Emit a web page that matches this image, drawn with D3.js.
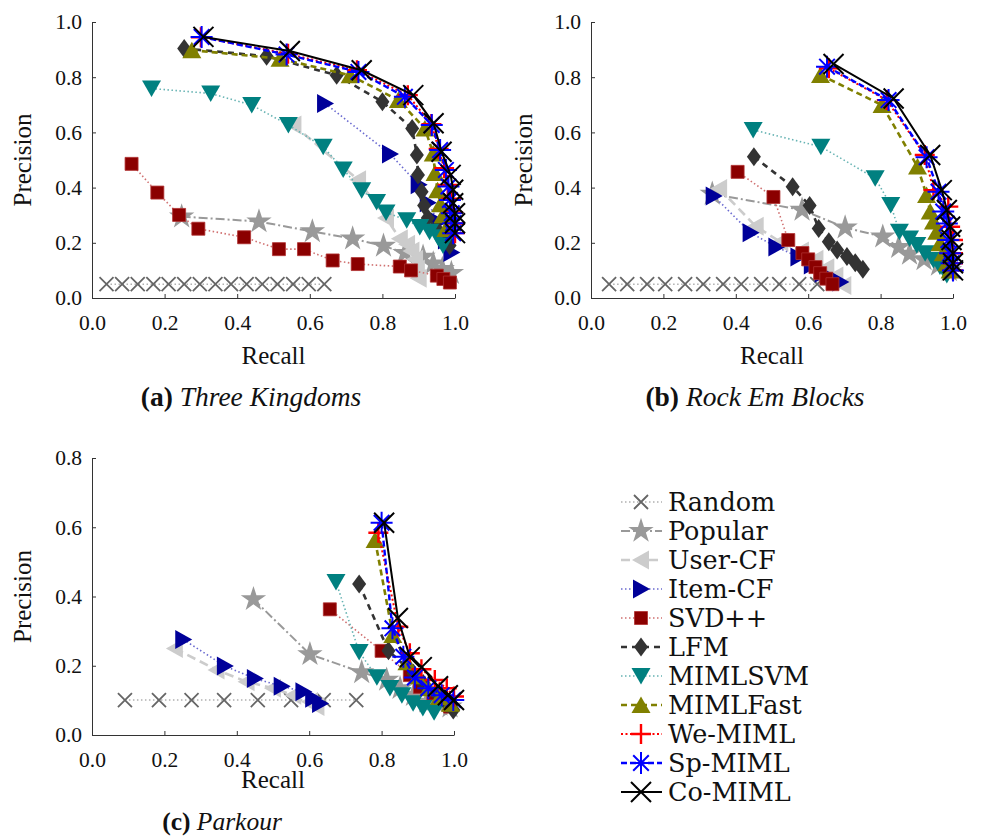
<!DOCTYPE html>
<html>
<head>
<meta charset="utf-8">
<script src="https://cdn.jsdelivr.net/npm/d3@7"></script>
<style>
  body { margin: 0; background: #fff; }
  svg { display: block; }
  svg text { fill: #111; }
  .lab { font-size: 25px; }
  .leg { font-size: 25.5px; }
</style>
</head>
<body>
<svg width="981" height="837"></svg>
<script>
// ### method names and (recall, precision) pairs ###
var methods = ["Random", "Popular", "User-CF", "Item-CF", "SVD++", "LFM",
               "MIMLSVM", "MIMLFast", "We-MIML", "Sp-MIML", "Co-MIML"];
var xTicks = [0, 0.2, 0.4, 0.6, 0.8, 1.0];
var yTicksAB = [0, 0.2, 0.4, 0.6, 0.8, 1.0];
var yTicksC = [0, 0.2, 0.4, 0.6, 0.8];
var captions = [["(a)", "Three Kingdoms"], ["(b)", "Rock Em Blocks"], ["(c)", "Parkour"]];

// (a) Three Kingdoms
var tkRandomRecall = [0.04, 0.083, 0.126, 0.169, 0.211, 0.254, 0.297, 0.34, 0.383, 0.426, 0.469, 0.511, 0.554, 0.597, 0.64];
var tkRandomPrec = 0.05;
var tkPopular = [[0.247,0.295],[0.46,0.277],[0.607,0.241],[0.718,0.215],[0.803,0.189],[0.862,0.163],[0.912,0.149],[0.94,0.125],[0.965,0.105],[0.99,0.09]];
var tkUserCF = [[0.555,0.627],[0.733,0.428],[0.81,0.29],[0.848,0.215],[0.868,0.195],[0.88,0.17],[0.89,0.14],[0.895,0.105],[0.9,0.072]];
var tkItemCF = [[0.642,0.705],[0.821,0.522],[0.9,0.41],[0.925,0.345],[0.955,0.275],[0.975,0.21],[0.99,0.165]];
var tkSVD = [[0.109,0.486],[0.18,0.382],[0.24,0.301],[0.293,0.251],[0.419,0.22],[0.515,0.177],[0.584,0.177],[0.663,0.136],[0.732,0.123],[0.848,0.114],[0.879,0.1],[0.95,0.081],[0.968,0.069],[0.986,0.056]];
var tkLFM = [[0.254,0.904],[0.481,0.876],[0.674,0.807],[0.8,0.711],[0.882,0.614],[0.895,0.518],[0.898,0.446],[0.908,0.385],[0.915,0.335],[0.925,0.29],[0.95,0.25],[0.985,0.19]];
var tkMIMLSVM = [[0.164,0.759],[0.327,0.741],[0.44,0.699],[0.541,0.627],[0.637,0.548],[0.692,0.466],[0.743,0.39],[0.784,0.348],[0.81,0.31],[0.867,0.282],[0.903,0.257],[0.93,0.24],[0.953,0.22],[0.967,0.19]];
var tkMIMLFast = [[0.275,0.898],[0.518,0.867],[0.711,0.807],[0.844,0.717],[0.917,0.614],[0.94,0.524],[0.945,0.453],[0.952,0.39],[0.96,0.34],[0.967,0.3],[0.975,0.25]];
var tkWeMIML = [[0.3,0.945],[0.54,0.885],[0.73,0.825],[0.87,0.735],[0.935,0.63],[0.955,0.54],[0.97,0.47],[0.98,0.41],[0.99,0.36],[0.995,0.31],[1.0,0.27],[1.0,0.235]];
var tkSpMIML = [[0.302,0.946],[0.536,0.882],[0.734,0.819],[0.862,0.729],[0.936,0.627],[0.959,0.536],[0.975,0.464],[0.982,0.404],[0.986,0.355],[0.991,0.307],[0.995,0.271],[0.995,0.235]];
var tkCoMIML = [[0.307,0.946],[0.545,0.895],[0.743,0.825],[0.885,0.735],[0.941,0.633],[0.963,0.53],[0.988,0.446],[0.995,0.392],[0.995,0.343],[1.0,0.307],[1.0,0.271],[1.0,0.235]];

// (b) Rock Em Blocks
var reRandomRecall = [0.05, 0.10, 0.155, 0.205, 0.26, 0.31, 0.365, 0.415, 0.47, 0.52, 0.575, 0.625];
var reRandomPrec = 0.05;
var rePopular = [[0.335,0.377],[0.583,0.319],[0.702,0.255],[0.806,0.222],[0.85,0.184],[0.88,0.16],[0.92,0.14],[0.96,0.12],[0.99,0.1]];
var reUserCF = [[0.354,0.397],[0.455,0.26],[0.523,0.203],[0.58,0.17],[0.62,0.14],[0.65,0.11],[0.675,0.08],[0.697,0.045]];
var reItemCF = [[0.339,0.37],[0.441,0.236],[0.512,0.185],[0.573,0.149],[0.61,0.12],[0.64,0.09],[0.689,0.058]];
var reSVD = [[0.405,0.457],[0.504,0.366],[0.545,0.21],[0.584,0.163],[0.6,0.14],[0.62,0.112],[0.633,0.09],[0.65,0.07],[0.667,0.05]];
var reLFM = [[0.45,0.512],[0.557,0.403],[0.604,0.335],[0.629,0.252],[0.657,0.204],[0.68,0.174],[0.707,0.15],[0.73,0.128],[0.751,0.104]];
var reMIMLSVM = [[0.448,0.609],[0.635,0.548],[0.785,0.434],[0.828,0.337],[0.852,0.24],[0.88,0.216],[0.9,0.192],[0.923,0.162],[0.946,0.138],[0.964,0.114],[0.983,0.083]];
var reMIMLFast = [[0.634,0.808],[0.804,0.699],[0.902,0.476],[0.927,0.373],[0.937,0.313],[0.946,0.277],[0.955,0.24],[0.964,0.198],[0.973,0.162],[0.983,0.126],[0.992,0.1]];
var reWeMIML = [[0.657,0.832],[0.817,0.717],[0.922,0.518],[0.946,0.391],[0.987,0.331],[0.992,0.258],[1.0,0.21],[1.0,0.162],[1.0,0.126],[1.0,0.1]];
var reSpMIML = [[0.652,0.838],[0.822,0.717],[0.927,0.51],[0.96,0.385],[0.973,0.313],[0.983,0.27],[0.987,0.21],[0.992,0.162],[0.996,0.126],[1.0,0.1]];
var reCoMIML = [[0.67,0.848],[0.836,0.723],[0.937,0.518],[0.969,0.391],[0.983,0.319],[0.992,0.258],[0.996,0.21],[1.0,0.162],[1.0,0.126],[1.0,0.1]];

// (c) Parkour
var pkRandomRecall = [0.091, 0.185, 0.275, 0.365, 0.458, 0.55, 0.64, 0.73];
var pkRandomPrec = 0.101;
var pkPopular = [[0.446,0.392],[0.602,0.233],[0.745,0.181],[0.814,0.159],[0.851,0.135],[0.888,0.115],[0.925,0.096],[0.961,0.087],[0.989,0.082]];
var pkUserCF = [[0.229,0.25],[0.344,0.188],[0.427,0.154],[0.5,0.135],[0.556,0.115],[0.602,0.096],[0.62,0.082]];
var pkItemCF = [[0.252,0.276],[0.367,0.199],[0.45,0.163],[0.524,0.141],[0.584,0.125],[0.611,0.106],[0.63,0.091]];
var pkSVD = [[0.657,0.363],[0.8,0.243],[0.878,0.173],[0.906,0.139],[0.943,0.12],[0.97,0.101],[0.989,0.082]];
var pkLFM = [[0.738,0.436],[0.819,0.243],[0.888,0.178],[0.915,0.149],[0.952,0.12],[0.98,0.091],[0.998,0.072]];
var pkMIMLSVM = [[0.674,0.442],[0.738,0.24],[0.787,0.167],[0.823,0.136],[0.856,0.115],[0.887,0.092],[0.914,0.078],[0.945,0.066]];
var pkMIMLFast = [[0.782,0.563],[0.831,0.289],[0.87,0.21],[0.9,0.17],[0.93,0.135],[0.96,0.11],[0.99,0.09]];
var pkWeMIML = [[0.791,0.584],[0.846,0.313],[0.878,0.236],[0.91,0.19],[0.947,0.159],[0.98,0.135],[1.0,0.111]];
var pkSpMIML = [[0.8,0.613],[0.83,0.308],[0.86,0.226],[0.892,0.166],[0.929,0.135],[0.966,0.115],[0.998,0.101]];
var pkCoMIML = [[0.807,0.613],[0.845,0.338],[0.878,0.225],[0.911,0.196],[0.956,0.141],[0.983,0.115],[1.0,0.101]];

// ### build series lists per panel (same order as methods) ###
function withRandom(rec, p, rest) {
  return [rec.map(r => [r, p])].concat(rest);
}
var seriesTK = withRandom(tkRandomRecall, tkRandomPrec, [tkPopular, tkUserCF, tkItemCF, tkSVD, tkLFM, tkMIMLSVM, tkMIMLFast, tkWeMIML, tkSpMIML, tkCoMIML]);
var seriesRE = withRandom(reRandomRecall, reRandomPrec, [rePopular, reUserCF, reItemCF, reSVD, reLFM, reMIMLSVM, reMIMLFast, reWeMIML, reSpMIML, reCoMIML]);
var seriesPK = withRandom(pkRandomRecall, pkRandomPrec, [pkPopular, pkUserCF, pkItemCF, pkSVD, pkLFM, pkMIMLSVM, pkMIMLFast, pkWeMIML, pkSpMIML, pkCoMIML]);

// ### styles ###
var styles = [
  {mark: "x",     color: "#666666", line: "#b0b0b0", dash: "1.5,2.5", lw: 1.6},
  {mark: "star",  color: "#999999", line: "#999999", dash: "9,3,2,3", lw: 2},
  {mark: "tl",    color: "#cccccc", line: "#cccccc", dash: "9,5",     lw: 2.6},
  {mark: "tr",    color: "#000099", line: "#6a6ad0", dash: "1.5,2.5", lw: 1.6},
  {mark: "sq",    color: "#8b0000", line: "#d07070", dash: "1.5,2.5", lw: 1.6},
  {mark: "dia",   color: "#333333", line: "#333333", dash: "6,5",     lw: 2.6},
  {mark: "tdown", color: "#008080", line: "#66b3b3", dash: "1.5,2.5", lw: 1.6},
  {mark: "tup",   color: "#808000", line: "#808000", dash: "6,4",     lw: 2.6},
  {mark: "plus",  color: "#ff0000", line: "#ff0000", dash: "2,2.5",   lw: 2},
  {mark: "ast",   color: "#0000ff", line: "#0000ff", dash: "6,3",     lw: 2.4},
  {mark: "cx",    color: "#000000", line: "#000000", dash: null,      lw: 2}
];

var markPaths = {
  x: "M-7,-7L7,7M-7,7L7,-7",
  star: d3.symbol(d3.symbolStar, 200)(),
  tl: "M-9,0L8,-9.5L8,9.5Z",
  tr: "M9,0L-8,-9.5L-8,9.5Z",
  sq: "M-6.5,-6.5H6.5V6.5H-6.5Z",
  dia: "M0,-9.5L7,0L0,9.5L-7,0Z",
  tdown: "M-9.5,-8L9.5,-8L0,8.5Z",
  tup: "M-9.5,8L9.5,8L0,-8.5Z",
  plus: "M-10,0H10M0,-10V10",
  ast: "M-11,0H11M0,-11V11M-7.8,-7.8L7.8,7.8M-7.8,7.8L7.8,-7.8",
  cx: "M-10,-10L10,10M-10,10L10,-10"
};
var stroked = {x: 1.8, plus: 2.4, ast: 2, cx: 2};

function drawMark(g, i) {
  var s = styles[i];
  var p = g.append("path").attr("d", markPaths[s.mark]);
  if (stroked[s.mark]) {
    p.attr("fill", "none").attr("stroke", s.color).attr("stroke-width", stroked[s.mark]);
  } else {
    p.attr("fill", s.color);
    if (s.mark === "sq") p.attr("stroke", "#b03030").attr("stroke-width", 0.8);
  }
}

var svg = d3.select("svg");
var serif = "Liberation Serif, Times New Roman, serif";
var legendFont = "DejaVu Serif, serif";

// ### panels ###
var panels = [
  {series: seriesTK, left: 92, right: 455, top: 22, bottom: 298, yMax: 1.0, yTicks: yTicksAB,
   labX: 22, recallY: 364, capX: 251, capY: 406, capSize: 27.5},
  {series: seriesRE, left: 591, right: 953, top: 22, bottom: 298, yMax: 1.0, yTicks: yTicksAB,
   labX: 523, recallY: 364, capX: 755, capY: 406, capSize: 27.5},
  {series: seriesPK, left: 92, right: 454, top: 458, bottom: 735, yMax: 0.8, yTicks: yTicksC,
   labX: 22, recallY: 788, capX: 222, capY: 830, capSize: 25.5}
];

panels.forEach(function(P, pi) {
  var x = d3.scaleLinear().domain([0, 1]).range([P.left, P.right]);
  var y = d3.scaleLinear().domain([0, P.yMax]).range([P.bottom, P.top]);
  var g = svg.append("g");

  var xAxis = d3.axisBottom(x).tickValues(xTicks).tickFormat(d3.format(".1f"))
    .tickSize(-4).tickSizeOuter(0).tickPadding(17);
  var yAxis = d3.axisLeft(y).tickValues(P.yTicks).tickFormat(d3.format(".1f"))
    .tickSize(-4).tickSizeOuter(0).tickPadding(10);

  g.append("g").attr("transform", `translate(0,${P.bottom})`).call(xAxis)
    .attr("font-family", serif).attr("font-size", 21.5);
  g.append("g").attr("transform", `translate(${P.left},0)`).call(yAxis)
    .attr("font-family", serif).attr("font-size", 21.5);
  g.selectAll(".domain, .tick line").attr("stroke", "#333").attr("stroke-width", 1);
  g.selectAll(".tick text").attr("fill", "#111");

  // series: line then markers
  P.series.forEach(function(pts, i) {
    var s = styles[i];
    var line = d3.line().x(d => x(d[0])).y(d => y(d[1]));
    var path = g.append("path").datum(pts).attr("d", line)
      .attr("fill", "none").attr("stroke", s.line).attr("stroke-width", s.lw);
    if (s.dash) path.attr("stroke-dasharray", s.dash);
    g.selectAll(null).data(pts).enter().append("g")
      .attr("transform", d => `translate(${x(d[0])},${y(d[1])})`)
      .each(function() { drawMark(d3.select(this), i); });
  });

  // axis labels
  g.append("text").attr("class", "lab").attr("text-anchor", "middle").attr("font-family", serif)
    .attr("x", (P.left + P.right) / 2).attr("y", P.recallY).text("Recall");
  g.append("text").attr("class", "lab").attr("text-anchor", "middle").attr("font-family", serif)
    .attr("transform", `translate(${P.labX + 9},${(P.top + P.bottom) / 2}) rotate(-90)`)
    .text("Precision");

  // caption
  var cap = g.append("text").attr("text-anchor", "middle").attr("font-family", serif)
    .attr("font-size", P.capSize).attr("x", P.capX).attr("y", P.capY);
  cap.append("tspan").attr("font-weight", "bold").text(captions[pi][0]);
  cap.append("tspan").attr("font-style", "italic").text(" " + captions[pi][1]);
});

// ### legend ###
var leg = svg.append("g");
methods.forEach(function(m, i) {
  var s = styles[i];
  var yy = 502 + i * 29;
  var ln = leg.append("line").attr("x1", 621).attr("x2", 662).attr("y1", yy).attr("y2", yy)
    .attr("stroke", s.line).attr("stroke-width", s.lw);
  if (s.dash) ln.attr("stroke-dasharray", s.dash);
  drawMark(leg.append("g").attr("transform", `translate(641,${yy})`), i);
  leg.append("text").attr("class", "leg").attr("font-family", legendFont)
    .attr("x", 668).attr("y", yy + 9).text(m);
});
</script>
</body>
</html>
